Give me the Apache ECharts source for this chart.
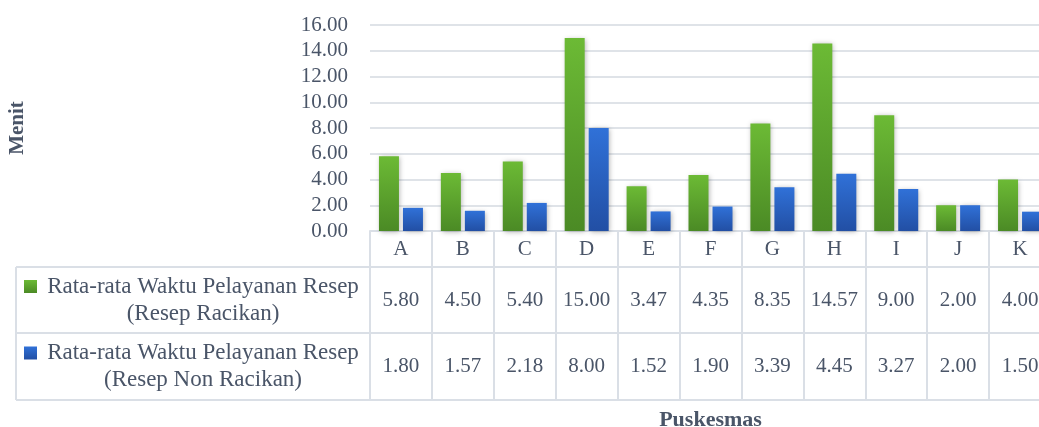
<!DOCTYPE html>
<html>
<head>
<meta charset="utf-8">
<script src="https://cdn.jsdelivr.net/npm/echarts@6/dist/echarts.min.js"></script>
<style>
  html, body { margin: 0; padding: 0; background: #fff; overflow: hidden; }
  #chart { width: 1039px; height: 427px; }
</style>
</head>
<body>
<div id="chart"></div>
<script>
const categories = ['A', 'B', 'C', 'D', 'E', 'F', 'G', 'H', 'I', 'J', 'K'];
const racikan = [5.80, 4.50, 5.40, 15.00, 3.47, 4.35, 8.35, 14.57, 9.00, 2.00, 4.00];
const nonRacikan = [1.80, 1.57, 2.18, 8.00, 1.52, 1.90, 3.39, 4.45, 3.27, 2.00, 1.50];
const seriesNames = [
  'Rata-rata Waktu Pelayanan Resep\n(Resep Racikan)',
  'Rata-rata Waktu Pelayanan Resep\n(Resep Non Racikan)'
];
const yTicks = { min: 0, max: 16, interval: 2 };
const axisTitles = { x: 'Puskesmas', y: 'Menit' };

const FONT = '"Liberation Serif", "Times New Roman", serif';
const TXT = '#4a5568';
const LINE = '#dadfe6';
const GRID_LEFT = 370, GRID_TOP = 25, AXIS_Y = 231, CHART_H = 427;
const ROW_TOPS = [267, 333, 400];
const TABLE_LEFT = 16, TABLE_RIGHT = 1051;

const greenGrad = new echarts.graphic.LinearGradient(0, 0, 0, 1, [
  { offset: 0, color: '#6cba35' }, { offset: 1, color: '#4b8a25' }]);
const blueGrad = new echarts.graphic.LinearGradient(0, 0, 0, 1, [
  { offset: 0, color: '#3071d8' }, { offset: 1, color: '#224fa4' }]);
const fills = [greenGrad, blueGrad];

const chart = echarts.init(document.getElementById('chart'), null, { renderer: 'canvas' });

const graphic = [];
ROW_TOPS.forEach(y => graphic.push({
  type: 'line', silent: true,
  shape: { x1: TABLE_LEFT, y1: y, x2: TABLE_RIGHT, y2: y },
  style: { stroke: LINE, lineWidth: 2 }
}));
graphic.push({
  type: 'line', silent: true,
  shape: { x1: TABLE_LEFT, y1: ROW_TOPS[0], x2: TABLE_LEFT, y2: ROW_TOPS[2] },
  style: { stroke: LINE, lineWidth: 2 }
});
seriesNames.forEach((name, i) => {
  const top = ROW_TOPS[i], bot = ROW_TOPS[i + 1];
  const cy = (top + bot) / 2;
  graphic.push({
    type: 'rect', silent: true,
    shape: { x: 24, y: cy - 20, width: 13, height: 13 },
    style: { fill: fills[i] }
  });
  graphic.push({
    type: 'text', silent: true,
    x: 203, y: cy,
    style: {
      text: name, fill: TXT, font: '23px ' + FONT,
      align: 'center', verticalAlign: 'middle', lineHeight: 27
    }
  });
});

const fmt = v => v.toFixed(2);

chart.setOption({
  animation: false,
  textStyle: { fontFamily: FONT, color: TXT },
  grid: {
    left: GRID_LEFT, right: 1039 - TABLE_RIGHT, top: GRID_TOP, bottom: CHART_H - AXIS_Y,
    containLabel: false, outerBoundsMode: 'none'
  },
  xAxis: [
    {
      type: 'category', data: categories, position: 'bottom',
      name: axisTitles.x, nameLocation: 'middle', nameGap: 189,
      nameTextStyle: { fontFamily: FONT, fontWeight: 'bold', fontSize: 22, color: TXT, verticalAlign: 'middle' },
      axisLine: { show: true, lineStyle: { color: LINE, width: 2 } },
      axisTick: { show: true, interval: 0, length: ROW_TOPS[2] - AXIS_Y, lineStyle: { color: LINE, width: 2 } },
      axisLabel: { interval: 0, margin: 18, verticalAlign: 'middle', fontSize: 21, color: TXT, fontFamily: FONT }
    },
    {
      type: 'category', data: racikan.map(fmt), position: 'bottom',
      axisLine: { show: false }, axisTick: { show: false },
      axisLabel: { interval: 0, margin: (ROW_TOPS[0] + ROW_TOPS[1]) / 2 - AXIS_Y, verticalAlign: 'middle', fontSize: 21, color: TXT, fontFamily: FONT }
    },
    {
      type: 'category', data: nonRacikan.map(fmt), position: 'bottom',
      axisLine: { show: false }, axisTick: { show: false },
      axisLabel: { interval: 0, margin: (ROW_TOPS[1] + ROW_TOPS[2]) / 2 - AXIS_Y, verticalAlign: 'middle', fontSize: 21, color: TXT, fontFamily: FONT }
    }
  ],
  yAxis: {
    type: 'value', min: yTicks.min, max: yTicks.max, interval: yTicks.interval,
    name: axisTitles.y, nameLocation: 'middle', nameGap: GRID_LEFT - 18, nameRotate: 90,
    nameTextStyle: { fontFamily: FONT, fontWeight: 'bold', fontSize: 21, color: TXT, verticalAlign: 'middle' },
    axisLine: { show: false }, axisTick: { show: false },
    axisLabel: { formatter: v => v.toFixed(2), margin: 22, fontSize: 21, color: TXT, fontFamily: FONT },
    splitLine: { lineStyle: { color: '#dfe3e8', width: 2 } }
  },
  graphic: graphic,
  series: [
    {
      name: seriesNames[0], type: 'bar', data: racikan, xAxisIndex: 0,
      barWidth: 20, barGap: '20%',
      itemStyle: { color: greenGrad, shadowBlur: 5, shadowColor: 'rgba(0,0,0,0.3)', shadowOffsetX: 1, shadowOffsetY: 1 }
    },
    {
      name: seriesNames[1], type: 'bar', data: nonRacikan, xAxisIndex: 0,
      barWidth: 20, barGap: '20%',
      itemStyle: { color: blueGrad, shadowBlur: 5, shadowColor: 'rgba(0,0,0,0.3)', shadowOffsetX: 1, shadowOffsetY: 1 }
    }
  ]
});
</script>
</body>
</html>
